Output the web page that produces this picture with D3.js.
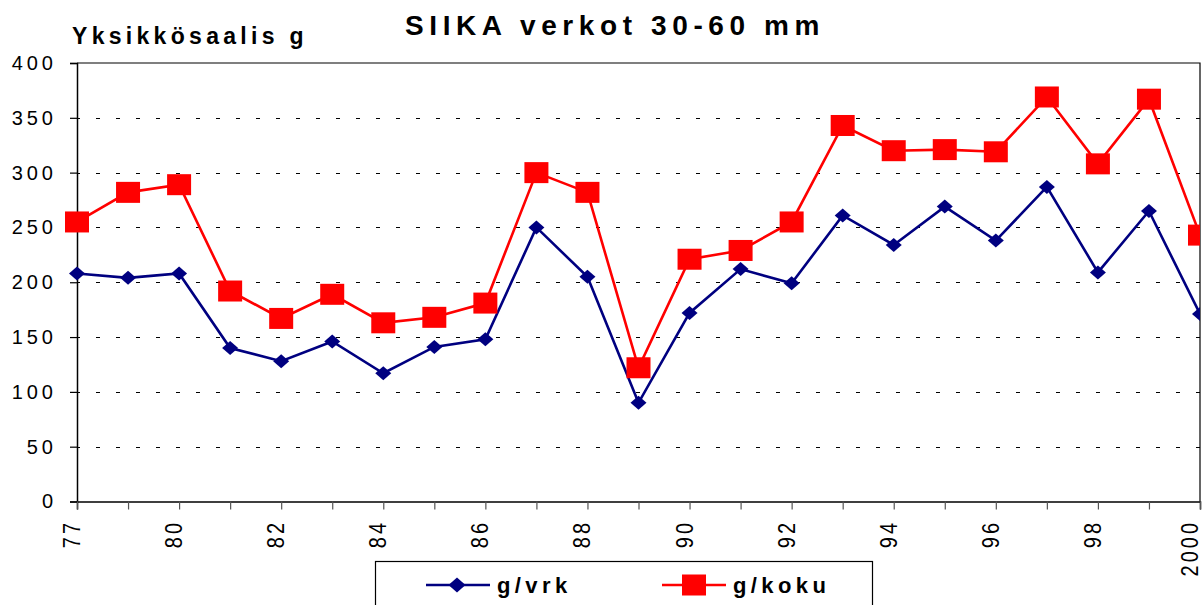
<!DOCTYPE html>
<html>
<head>
<meta charset="utf-8">
<script src="https://cdn.jsdelivr.net/npm/d3@7"></script>
<style>
  html, body { margin: 0; padding: 0; background: #fff; }
  svg { display: block; font-family: "Liberation Sans", Arial, sans-serif; }
</style>
</head>
<body>
<svg id="chart" width="1203" height="605"></svg>
<script>
// ---- data ----
const categories = ["77","78","80","81","82","83","84","85","86","87","88","89","90","91","92","93","94","95","96","97","98","99","2000"];
const gVrk  = [208, 204, 208, 140, 128, 146, 117, 141, 148, 250, 205, 90, 172, 212, 199, 261, 234, 269, 238, 287, 209, 265, 171];
const gKoku = [255, 282, 289, 192, 167, 189, 163, 168, 181, 300, 282, 122, 221, 229, 255, 343, 320, 321, 319, 369, 308, 367, 243];
const yTicks = [0, 50, 100, 150, 200, 250, 300, 350, 400];
const seriesNames = ["g/vrk", "g/koku"];
const titleText = "SIIKA verkot 30-60 mm";
const yTitleText = "Yksikkösaalis g";

// ---- layout ----
const W = 1203, H = 605;
const pLeft = 77, pRight = 1200, pTop = 63, pBottom = 501.5;
const BLUE = "#000080", RED = "#FF0000";

const svg = d3.select("#chart");

const x = d3.scalePoint().domain(categories).range([pLeft, pRight]);
const y = d3.scaleLinear().domain([0, 400]).range([pBottom, pTop]);

// gridlines (dashed)
svg.append("g").selectAll("line")
  .data(yTicks.filter(v => v > 0 && v < 400))
  .join("line")
  .attr("x1", pLeft).attr("x2", pRight)
  .attr("y1", d => Math.round(y(d)) + 0.5).attr("y2", d => Math.round(y(d)) + 0.5)
  .attr("stroke", "#000").attr("stroke-width", 1)
  .attr("stroke-dasharray", "4,16").attr("stroke-dashoffset", 1);

// plot border top & right
svg.append("path")
  .attr("d", `M${pLeft},${y(400)}H${pRight}V${pBottom}`)
  .attr("fill", "none").attr("stroke", "#000").attr("stroke-width", 1.2);

// y axis
const yAxis = svg.append("g")
  .attr("transform", `translate(${pLeft},0)`)
  .call(d3.axisLeft(y).tickValues(yTicks).tickSize(7).tickPadding(13));
yAxis.select(".domain").attr("stroke", "#000").attr("stroke-width", 1.5);
yAxis.selectAll(".tick line").attr("stroke", "#000").attr("stroke-width", 1.2);
yAxis.selectAll("text")
  .attr("font-size", 20).attr("letter-spacing", 4).attr("fill", "#000")
  .attr("font-family", "'Liberation Sans', Arial, sans-serif");

// x axis
const xAxis = svg.append("g")
  .attr("transform", `translate(0,${pBottom})`)
  .call(d3.axisBottom(x).tickSize(8).tickFormat((d, i) => i % 2 === 0 ? d : ""));
xAxis.select(".domain").attr("stroke", "#000").attr("stroke-width", 1.5);
xAxis.selectAll(".tick line").attr("stroke", "#555").attr("stroke-width", 1.2);
xAxis.selectAll("text")
  .attr("x", 0).attr("y", 0).attr("dy", 0)
  .attr("text-anchor", "end")
  .attr("transform", d => `translate(${Math.min(2.5, W - 6 - x(d))},18.5) rotate(-90) scale(1,1.2)`)
  .attr("font-size", 20).attr("letter-spacing", 3).attr("fill", "#000")
  .attr("font-family", "'Liberation Sans', Arial, sans-serif");

// clip for plot content (right edge)
svg.append("defs").append("clipPath").attr("id", "plotclip")
  .append("rect").attr("x", 0).attr("y", 0).attr("width", pRight).attr("height", H);

const plot = svg.append("g").attr("clip-path", "url(#plotclip)");

const line = d3.line().x((d, i) => x(categories[i])).y(d => y(d));

const diamondPath = "M0,-7L8,0L0,7L-8,0Z";

// blue series
plot.append("path").datum(gVrk)
  .attr("d", line).attr("fill", "none")
  .attr("stroke", BLUE).attr("stroke-width", 2.6);
// red series
plot.append("path").datum(gKoku)
  .attr("d", line).attr("fill", "none")
  .attr("stroke", RED).attr("stroke-width", 2.6);

plot.append("g").selectAll("path")
  .data(gVrk).join("path")
  .attr("d", diamondPath)
  .attr("transform", (d, i) => `translate(${x(categories[i])},${y(d)})`)
  .attr("fill", BLUE);

plot.append("g").selectAll("rect")
  .data(gKoku).join("rect")
  .attr("x", (d, i) => x(categories[i]) - 12)
  .attr("y", d => y(d) - 10.5)
  .attr("width", 24).attr("height", 21)
  .attr("fill", RED);

// titles
svg.append("text")
  .attr("x", 405).attr("y", 35)
  .attr("font-size", 28).attr("font-weight", "bold").attr("letter-spacing", 5.6)
  .attr("fill", "#000")
  .text(titleText);

svg.append("text")
  .attr("x", 72).attr("y", 44)
  .attr("font-size", 23).attr("font-weight", "bold").attr("letter-spacing", 4.3)
  .attr("fill", "#000")
  .text(yTitleText);

// legend
const lg = svg.append("g");
lg.append("rect")
  .attr("x", 375.5).attr("y", 561.5).attr("width", 497).attr("height", 70)
  .attr("fill", "#fff").attr("stroke", "#000").attr("stroke-width", 1.2);

const legendItems = [
  { name: seriesNames[0], color: BLUE, x0: 426, marker: "diamond" },
  { name: seriesNames[1], color: RED,  x0: 662, marker: "square" }
];
legendItems.forEach(it => {
  const g = lg.append("g");
  g.append("line").attr("x1", it.x0).attr("x2", it.x0 + 64)
    .attr("y1", 585).attr("y2", 585)
    .attr("stroke", it.color).attr("stroke-width", 2.6);
  if (it.marker === "diamond") {
    g.append("path").attr("d", "M0,-7.5L8.5,0L0,7.5L-8.5,0Z")
      .attr("transform", `translate(${it.x0 + 31},585)`).attr("fill", it.color);
  } else {
    g.append("rect").attr("x", it.x0 + 32 - 12).attr("y", 585 - 10.5)
      .attr("width", 24).attr("height", 21).attr("fill", it.color);
  }
  g.append("text").attr("x", it.x0 + 71).attr("y", 593)
    .attr("font-size", 22).attr("font-weight", "bold").attr("letter-spacing", 4.4)
    .attr("fill", "#000").text(it.name);
});
</script>
</body>
</html>
